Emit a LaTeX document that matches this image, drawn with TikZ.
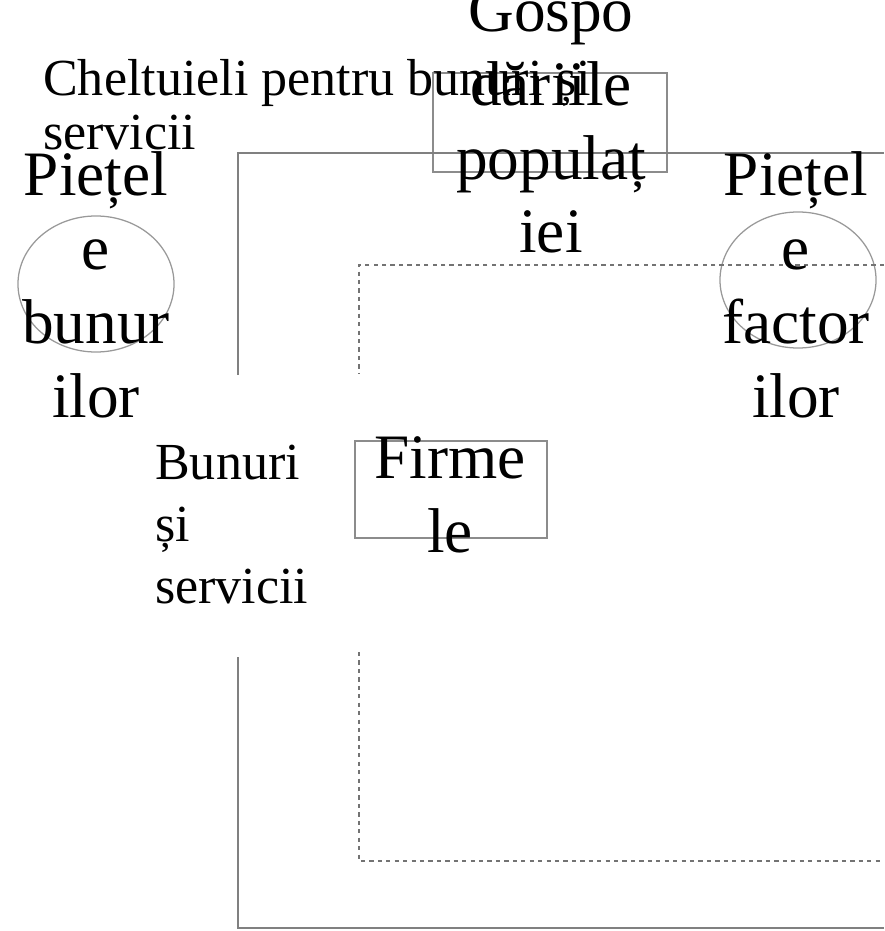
\documentclass[tikz,border=0pt]{standalone}
\usepackage{fontspec}
\setmainfont{Liberation Serif}
\usetikzlibrary{shapes.geometric}

\begin{document}
\begin{tikzpicture}[x=0.025cm, y=-0.025cm,
  big/.style={font=\fontsize{45}{52.5}\selectfont, align=center, inner sep=0pt, anchor=base},
  small/.style={font=\fontsize{37}{39}\selectfont, align=left, inner sep=0pt, anchor=base west},
  flux/.style={draw=black!50, line width=1.9pt},
  fluxdot/.style={draw=black!55, line width=1.4pt, dash pattern=on 3pt off 3pt},
  box/.style={draw=black!45, line width=0.9pt, rectangle, inner sep=0pt},
  piata/.style={draw=black!40, line width=0.9pt, ellipse, inner sep=0pt}]

  \useasboundingbox (0,0) rectangle (884,931);

  % colturile celor doua circuite
  \coordinate (A) at (884,153);
  \coordinate (B) at (238,153);
  \coordinate (C) at (238,375);
  \coordinate (D) at (238,657);
  \coordinate (E) at (238,928);
  \coordinate (F) at (884,928);
  \coordinate (P) at (884,265);
  \coordinate (Q) at (359,265);
  \coordinate (R) at (359,374);
  \coordinate (S) at (359,652);
  \coordinate (T) at (359,861);
  \coordinate (U) at (884,861);

  % casete si pietele
  \node[box, minimum width=5.85cm, minimum height=2.475cm] (gosp) at (550,122.5) {};
  \node[box, minimum width=4.8cm, minimum height=2.425cm] (firme) at (451,489.5) {};
  \node[piata, minimum width=3.9cm, minimum height=3.4cm] (pbun) at (96,284) {};
  \node[piata, minimum width=3.9cm, minimum height=3.4cm] (pfac) at (798,280) {};

  % circuitul real (linie plina)
  \draw[flux] (A) -- (B) -- (C);
  \draw[flux] (D) -- (E) -- (F);

  % circuitul monetar (punctat)
  \draw[fluxdot] (P) -- (Q) -- (R);
  \draw[fluxdot] (S) -- (T) -- (U);

  % texte (ancorate pe ultimul rand)
  \node[big] (tgosp) at (551,253) {Gospo\\dăriile\\populaț\\iei};
  \node[big] (tpbun) at (96,417) {Piețel\\e\\bunur\\ilor};
  \node[big] (tpfac) at (796,417) {Piețel\\e\\factor\\ilor};
  \node[big] (tfirme) at (450,552) {Firme\\le};
  \node[small] (chelt) at (43,150) {Cheltuieli pentru bunuri și\\servicii};
  \node[small, font=\fontsize{37}{44}\selectfont] (bunuri) at (155,603) {Bunuri\\și\\servicii};
\end{tikzpicture}
\end{document}
